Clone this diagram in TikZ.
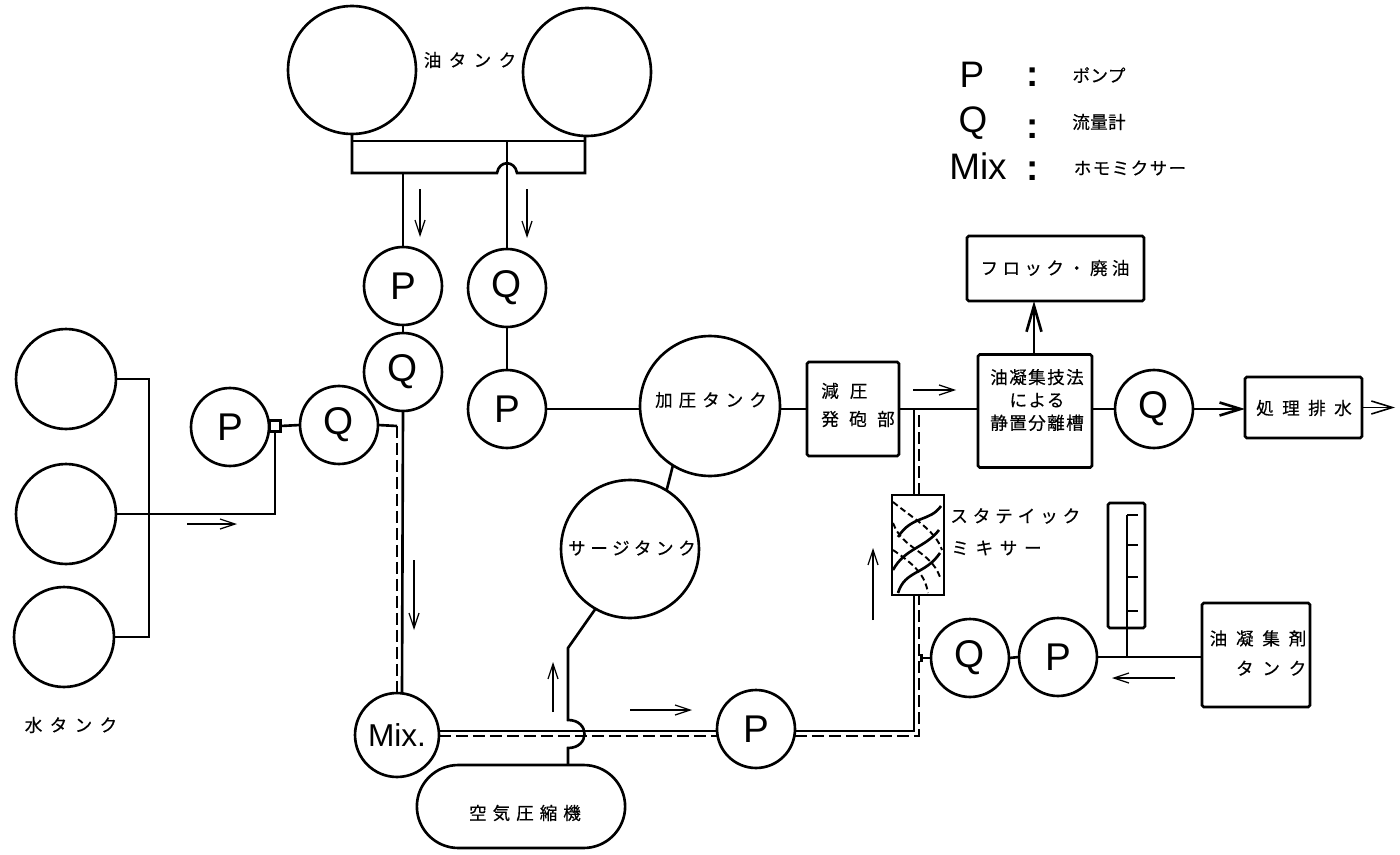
\documentclass[tikz,border=0pt]{standalone}
\usepackage{fontspec}
\setmainfont{Liberation Sans}
\newfontfamily\cjk[FakeBold=0.4]{Noto Sans CJK JP}
\usetikzlibrary{arrows.meta,shapes.misc}
\begin{document}
\begin{tikzpicture}[x=0.02cm, y=-0.02cm, line width=1.5pt,
        tank/.style={circle, draw, outer sep=0pt, inner sep=0pt, minimum size=0.04cm*#1},
        meter/.style={tank=39, font=\fontsize{22}{22}\selectfont},
        box/.style={draw, outer sep=0pt, inner sep=0pt, rounded corners=1pt},
        lab/.style={font=\cjk\fontsize{10}{14}\selectfont\addfontfeature{LetterSpace=#1}, inner sep=0pt},
        sym/.style={font=\fontsize{21}{21}\selectfont, inner sep=0pt},
        flow/.style={line width=0.7pt, -{Straight Barb[length=0.3cm,width=0.2cm]}},
        outflow/.style={-{Straight Barb[length=0.42cm,width=0.26cm]}},
        wash/.style={dash pattern=on 0.24cm off 0.1cm},
        swirl/.style={line width=1.1pt, dash pattern=on 0.12cm off 0.07cm}]
    \useasboundingbox (0,0) rectangle (1400,855);
    % tanks
    \foreach \n/\px/\py/\d in {oil1/352/70/64,oil2/587/72/64,wt1/66/379/50,wt2/66/514/50,wt3/64/637/50,
            ptk/710/406/70,stk/630/549/69} {
        \node[tank=\d] (\n) at (\px,\py) {};
    }
    % pumps and flow meters
    \foreach \n/\t/\px/\py in {pa/P/403/286,qa/Q/403/372,qb/Q/507/288,pb/P/507/409,pc/P/230/427,qc/Q/339/425,
            pd/P/756/729,qd/Q/1154/409,qe/Q/970/658,pe/P/1058/657} {
        \node[meter] (\n) at (\px,\py) {\t};
    }
    \node[tank=42, font=\fontsize{18}{18}\selectfont] (mix) at (397,735) {Mix.};
    \node[draw, outer sep=0pt, fill=white, minimum size=0.22cm, inner sep=0pt] (jt) at (275,426) {};

    % boxes
    \node[box, minimum width=1.84cm, minimum height=1.88cm] (rbox) at (853,409) {};
    \node[box, minimum width=2.28cm, minimum height=2.26cm] (sep) at (1035,411) {};
    \node[box, minimum width=3.54cm, minimum height=1.3cm] (floc) at (1055.5,268.5) {};
    \node[box, minimum width=2.34cm, minimum height=1.22cm] (dis) at (1303.5,407.5) {};
    \node[box, minimum width=2.16cm, minimum height=2.08cm] (agt) at (1256,655) {};
    \node[box, minimum width=0.74cm, minimum height=2.5cm] (fmr) at (1126.5,565.5) {};
    \node[draw, outer sep=0pt, minimum width=1.04cm, minimum height=2cm] (smx) at (918,545) {};
    \node[draw, outer sep=0pt, rounded rectangle, minimum width=4.4cm, minimum height=1.66cm] (air) at (521,806.5) {};

    % texts
    \node[lab=42] (toil) at (470,60) {油タンク};
    \node[lab=42] (twat) at (71,725) {水タンク};
    \node[lab=34] (tptk) at (711,400) {加圧タンク};
    \node[lab=26] (tstk) at (632,548) {サージタンク};
    \node[lab=34] (tair) at (525,813) {空気圧縮機};
    \node[lab=25] (tfloc) at (1055,268) {フロック・廃油};
    \node[lab=48] (tdis) at (1304,408) {処理排水};
    \node[lab=59, align=left] (trbox) at (858,405) {減\hspace{0.22cm}圧\\[2pt]発砲部};
    \node[lab=8, align=center] (tsep) at (1037,400) {油凝集技法\\[-1pt]による\\[-1pt]静置分離槽};
    \node[lab=50, align=right] (tagt) at (1258,653) {油凝集剤\\[3pt]タンク};
    \node[lab=28, anchor=west] (tsm1) at (949,516) {スタテイック};
    \node[lab=38, anchor=west] (tsm2) at (950,548) {ミキサー};

    % legend
    \node[sym] (lp) at (972,75) {P};
    \node[sym] (lq) at (973,123) {Q};
    \node[sym] (lm) at (978,166) {Mix};
    \foreach \n/\py in {c1/77,c2/129,c3/171} {
        \node[sym, font=\bfseries\fontsize{21}{21}\selectfont] (\n) at (1033,\py) {:};
    }
    \node[lab=2] (tlp) at (1099,75) {ポンプ};
    \node[lab=2] (tlq) at (1099,122) {流量計};
    \node[lab=8] (tlm) at (1130,168) {ホモミクサー};

    % oil feed
    \coordinate (bl) at (352,173);
    \coordinate (br) at (585,173);
    \coordinate (tl) at (352,141);
    \coordinate (tr) at (585,141);
    \draw (oil1.south) -- (bl) -- (497,173) .. controls (499,160) and (515,160) .. (517,173) -- (br) -- (br |- oil2.south);
    \draw (tl) -- (tr);
    \draw (pa |- bl) -- (pa.north);
    \draw (qb |- tl) -- (qb.north);
    \draw (pa) -- (qa);
    \draw (qb) -- (pb);
    \draw (pb.east) -- (pb.east -| ptk.west);
    \draw (rbox.west -| ptk.east) -- (rbox.west);
    \draw (ptk.238) -- (stk.58);

    % water feed
    \coordinate (wb) at (149,637);
    \draw (wt1.east) -| (wb) -- (wt3.east);
    \draw (wt2.east) -| (jt.south);
    \draw (jt.east) -- (qc.west);
    \coordinate (sa) at (402,694);
    \coordinate (da) at (397,426);
    \draw (qc.east) -- (da);
    \draw (qa.south) -- (sa);
    \draw[wash] (da) -- (397,694);

    % mixer line
    \coordinate (hs) at (914,731);
    \coordinate (hd) at (919,736);
    \coordinate (js) at (914,409);
    \coordinate (jd) at (919,409);
    \draw (mix.east |- hs) -- (pd.west |- hs);
    \draw[wash] (mix.east |- hd) -- (pd.west |- hd);
    \draw (pd.east |- hs) -- (hs) -- (hs |- smx.south);
    \draw[wash] (pd.east |- hd) -- (hd) -- (hd |- smx.south);
    \draw (hs |- smx.north) -- (js);
    \draw[wash] (hd |- smx.north) -- (jd);
    \draw[swirl] (893,502) .. controls (915,520) and (935,530) .. (942,550);
    \draw[swirl] (893,523) .. controls (903,550) and (930,550) .. (940,577);
    \draw[swirl] (893,550) .. controls (915,565) and (925,575) .. (928,593);
    \draw (898,537) .. controls (912,515) and (930,522) .. (941,506);
    \draw (893,570) .. controls (905,548) and (925,548) .. (939,530);
    \draw (898,593) .. controls (905,570) and (925,575) .. (940,553);

    % air line
    \coordinate (ca) at (568,765);
    \draw (ca) -- (568,748) .. controls (590,748) and (590,720) .. (568,720) -- (568,648) -- (stk.240);

    % outlet
    \draw (rbox.east) -- (rbox.east -| sep.west);
    \draw (sep.east |- qd.west) -- (qd.west);
    \draw[outflow] (qd.east) -- (qd.east -| dis.west);
    \draw[outflow, line width=0.9pt] (dis.east) -- (1395,407.5);
    \coordinate (fa) at (1034,355);
    \draw[-{Straight Barb[length=0.52cm,width=0.3cm]}] (fa) -- (fa |- floc.south);

    % dosing line
    \draw[-{Bar[width=0.16cm]}] (qe.west) -- (920,658);
    \draw (qe.east) -- (pe.west);
    \draw (pe.east) -- (pe.east -| agt.west);
    \coordinate (fb) at (1127,656);
    \draw (fb) -- (1127,515);
    \foreach \py in {515,545,577,611} {
        \coordinate (fk\py) at (1127,\py);
        \draw (fk\py) -- ++(11,0);
    }

    % flow directions
    \foreach \i/\xa/\ya/\xb/\yb in {1/420/189/420/237,2/527/189/527/238,3/187/524/237/524,4/414/560/414/630,
            5/553/712/553/662,6/630/710/692/710,7/913/390/956/390,8/873/620/873/548,9/1175/678/1112/678} {
        \coordinate (f\i a) at (\xa,\ya);
        \coordinate (f\i b) at (\xb,\yb);
        \draw[flow] (f\i a) -- (f\i b);
    }
\end{tikzpicture}
\end{document}
